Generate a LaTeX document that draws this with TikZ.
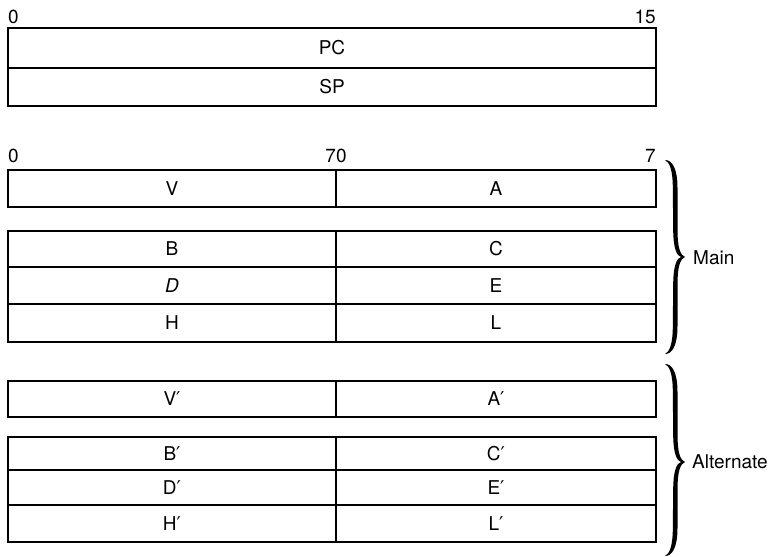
\documentclass[tikz,border=0pt]{standalone}
\usepackage{fontspec}
\setmainfont{TeX Gyre Heros}
\newfontfamily\primefont{DejaVu Sans}
\newcommand\pr{{\primefont ′}}
\newcommand\regbrace[3]{% #1 top y, #2 tip y, #3 bottom y
  \fill[brc] (665,#1)
    .. controls (672,#1) and (677.5,{#1+8}) .. (677.5,{#1+28})
    -- (677.5,{#2-28})
    .. controls (677.5,{#2-8}) and (680.5,{#2-2}) .. (685,#2)
    .. controls (680.5,{#2+2}) and (677.5,{#2+8}) .. (677.5,{#2+28})
    -- (677.5,{#3-28})
    .. controls (677.5,{#3-8}) and (672,#3) .. (665,#3)
    .. controls (669.5,{#3-2}) and (672.8,{#3-10}) .. (672.8,{#3-28})
    -- (673.2,{#2+28})
    .. controls (673.2,{#2+8}) and (677,{#2+1}) .. (681,#2)
    .. controls (677,{#2-1}) and (673.2,{#2-8}) .. (673.2,{#2-28})
    -- (672.8,{#1+28})
    .. controls (672.8,{#1+10}) and (669.5,{#1+2}) .. (665,#1) -- cycle;}
\begin{document}
\begin{tikzpicture}[x=1pt,y=-1pt,
  font=\fontsize{19}{21}\selectfont,
  cell/.style={draw, line width=2.3pt, inner sep=0pt, text height=13.5pt, text depth=0pt},
  wide/.style={cell, minimum width=648pt},
  lcell/.style={cell, minimum width=328pt},
  rcell/.style={cell, minimum width=320pt},
  num/.style={inner sep=0pt},
  brc/.style={black},
  grp/.style={anchor=west, inner sep=0pt}]
\useasboundingbox (0,0) rectangle (777,557);
% 16-bit registers
\node[num, anchor=base west] (n0a) at (8,23) {0};
\node[num, anchor=base east] (n15) at (656,23) {15};
\node[wide, minimum height=40pt] (pc) at (332,48) {PC};
\node[wide, minimum height=38pt] (sp) at (332,87) {SP};
% bit labels
\node[num, anchor=base west] (n0b) at (8,162) {0};
\node[num, anchor=base] (n70) at (336,162) {70};
\node[num, anchor=base east] (n7) at (656,162) {7};
% main set
\node[lcell, minimum height=37pt] (v) at (172,188.5) {V};
\node[rcell, minimum height=37pt] (a) at (496,188.5) {A};
\node[lcell, minimum height=36pt] (b) at (172,249) {B};
\node[rcell, minimum height=36pt] (c) at (496,249) {C};
\node[lcell, minimum height=37pt] (d) at (172,285.5) {\itshape D};
\node[rcell, minimum height=37pt] (e) at (496,285.5) {E};
\node[lcell, minimum height=38pt] (h) at (172,323) {H};
\node[rcell, minimum height=38pt] (l) at (496,323) {L};
% alternate set
\node[lcell, minimum height=36pt] (v2) at (172,399) {V\pr};
\node[rcell, minimum height=36pt] (a2) at (496,399) {A\pr};
\node[lcell, minimum height=33pt] (b2) at (172,453.5) {B\pr};
\node[rcell, minimum height=33pt] (c2) at (496,453.5) {C\pr};
\node[lcell, minimum height=35pt] (d2) at (172,487.5) {D\pr};
\node[rcell, minimum height=35pt] (e2) at (496,487.5) {E\pr};
\node[lcell, minimum height=37pt] (h2) at (172,523.5) {H\pr};
\node[rcell, minimum height=37pt] (l2) at (496,523.5) {L\pr};
% braces
\regbrace{160}{257}{354}
\regbrace{364}{462}{556}
\node[grp] (main) at (693,258) {Main};
\node[grp] (alt) at (692,462) {Alternate};
\end{tikzpicture}
\end{document}
